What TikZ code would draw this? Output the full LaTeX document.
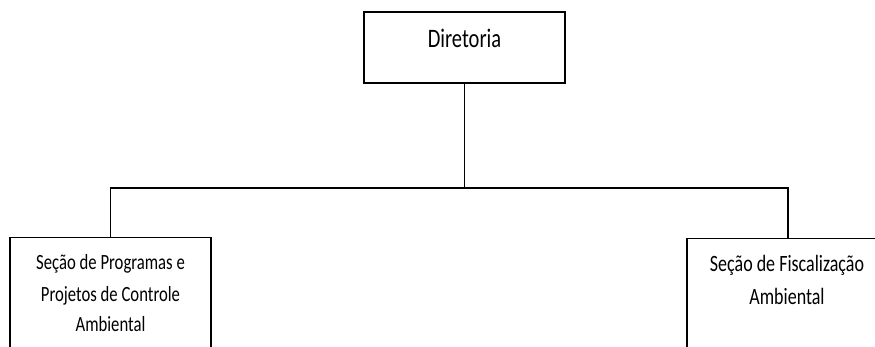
\documentclass[tikz,border=0pt]{standalone}
\usepackage{fontspec}
\setmainfont{Carlito}
\begin{document}
\begin{tikzpicture}[x=1pt,y=1pt,
  box/.style={draw=black, line width=1.4pt, inner sep=0pt, fill=white},
  lbl/.style={inner sep=0pt, align=center, yscale=1.3},
  conn/.style={draw=black, line width=1.4pt}]
\useasboundingbox (0,0) rectangle (875,347);
% boxes
\node[box, minimum width=201pt, minimum height=71pt] (dir) at (464.5,299.5) {};
\node[box, minimum width=201pt, minimum height=130pt, anchor=north] (left) at (110.5,110) {};
\node[box, minimum width=202pt, minimum height=130pt, anchor=north] (right) at (788,109) {};
% texts
\node[lbl, anchor=base, font=\fontsize{20.5}{24}\selectfont] (tdir) at (464.5,299) {Diretoria};
\node[lbl, anchor=base, font=\fontsize{16.7}{24}\selectfont] (tl1) at (110.5,77) {Seção de Programas e};
\node[lbl, anchor=base, font=\fontsize{16.7}{24}\selectfont] (tl2) at (110.5,45) {Projetos de Controle};
\node[lbl, anchor=base, font=\fontsize{16.7}{24}\selectfont] (tl3) at (110.5,15) {Ambiental};
\node[lbl, anchor=base, font=\fontsize{18}{24}\selectfont] (tr1) at (787,75) {Seção de Fiscalização};
\node[lbl, anchor=base, font=\fontsize{18}{24}\selectfont] (tr2) at (787,42) {Ambiental};
% connectors
\coordinate (busL) at (110.5,159);
\coordinate (busR) at (788,159);
\draw[conn] (left.north) -- (busL) -- (busR) -- (right.north);
\draw[conn] (dir.south) -- (dir.south |- busL);
\end{tikzpicture}
\end{document}
